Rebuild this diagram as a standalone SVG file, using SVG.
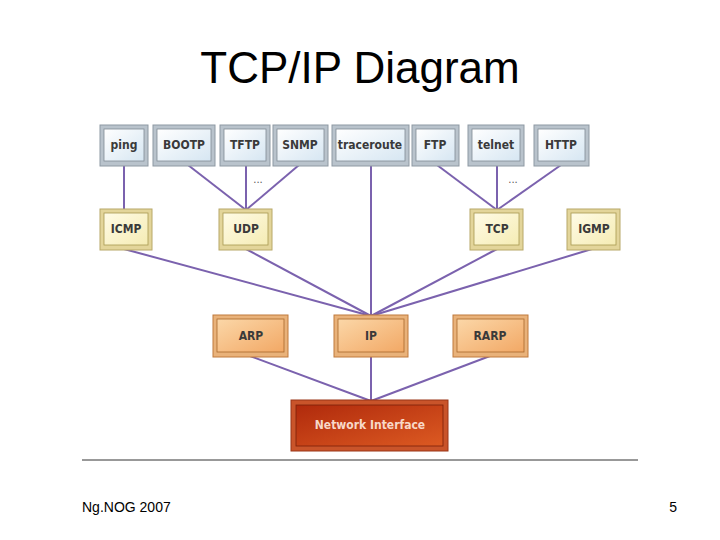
<svg xmlns="http://www.w3.org/2000/svg" width="720" height="540" viewBox="0 0 720 540">
<defs>
<linearGradient id="gBlue" x1="0" y1="0" x2="1" y2="1"><stop offset="0" stop-color="#ffffff"/><stop offset="1" stop-color="#d6e6f2"/></linearGradient>
<linearGradient id="gYel" x1="0" y1="0" x2="1" y2="1"><stop offset="0" stop-color="#fffbe6"/><stop offset="1" stop-color="#f5ecb4"/></linearGradient>
<linearGradient id="gOr" x1="0" y1="0" x2="1" y2="1"><stop offset="0" stop-color="#fbd7a8"/><stop offset="1" stop-color="#f2a865"/></linearGradient>
<linearGradient id="gRed" x1="0" y1="0" x2="1" y2="1"><stop offset="0" stop-color="#b02a0c"/><stop offset="1" stop-color="#dc5a22"/></linearGradient>
<style>
.ob{fill:#b9c3cc;stroke:#8e99a3;stroke-width:1}
.ib{fill:url(#gBlue);stroke:#7f8a94;stroke-width:0.8}
.oy{fill:#e3d59a;stroke:#b8a868;stroke-width:1}
.iy{fill:url(#gYel);stroke:#a89850;stroke-width:0.8}
.oo{fill:#e9b27a;stroke:#c07a3c;stroke-width:1}
.io{fill:url(#gOr);stroke:#a8682c;stroke-width:0.8}
.orr{fill:#c9542a;stroke:#9a3416;stroke-width:1}
.ir{fill:url(#gRed);stroke:#7a2008;stroke-width:0.8}
.lb{font-family:"DejaVu Sans Condensed","DejaVu Sans",sans-serif;font-weight:bold;font-size:12px;fill:#3a3a3a;text-anchor:middle}
.lw{font-family:"DejaVu Sans Condensed","DejaVu Sans",sans-serif;font-weight:bold;font-size:12px;fill:#f8d8c8;text-anchor:middle}
.cn{stroke:#7b62ae;stroke-width:2;fill:none}
.dots{font-family:"DejaVu Sans",sans-serif;font-size:10px;fill:#555;text-anchor:middle}
</style>
</defs>
<rect width="720" height="540" fill="#ffffff"/>
<text x="360" y="83" font-family="Liberation Sans, Arial, sans-serif" font-size="44" text-anchor="middle" fill="#000">TCP/IP Diagram</text>

<g id="connectors">
<line class="cn" x1="124" y1="166" x2="124" y2="210"/>
<line class="cn" x1="188" y1="165" x2="246" y2="210"/>
<line class="cn" x1="246" y1="166" x2="246" y2="210"/>
<line class="cn" x1="299" y1="165" x2="246" y2="210"/>
<line class="cn" x1="371" y1="166" x2="371" y2="316"/>
<line class="cn" x1="437" y1="165" x2="497" y2="210"/>
<line class="cn" x1="497" y1="166" x2="497" y2="210"/>
<line class="cn" x1="561" y1="165" x2="497" y2="210"/>
<line class="cn" x1="124" y1="249" x2="371" y2="316"/>
<line class="cn" x1="246" y1="249" x2="371" y2="316"/>
<line class="cn" x1="497" y1="249" x2="371" y2="316"/>
<line class="cn" x1="592" y1="249" x2="371" y2="316"/>
<line class="cn" x1="250" y1="356" x2="371" y2="401"/>
<line class="cn" x1="371" y1="356" x2="371" y2="401"/>
<line class="cn" x1="490" y1="356" x2="371" y2="401"/>
</g>
<text class="dots" x="258" y="183">...</text>
<text class="dots" x="513" y="183">...</text>

<g id="ping"><rect class="ob" x="100" y="125" width="48" height="41"/><rect class="ib" x="104" y="129" width="40" height="32"/><text class="lb" x="124" y="149">ping</text></g>
<g id="bootp"><rect class="ob" x="153" y="125" width="62" height="41"/><rect class="ib" x="157" y="129" width="54" height="32"/><text class="lb" x="184" y="149">BOOTP</text></g>
<g id="tftp"><rect class="ob" x="220" y="125" width="50" height="41"/><rect class="ib" x="224" y="129" width="42" height="32"/><text class="lb" x="245" y="149">TFTP</text></g>
<g id="snmp"><rect class="ob" x="273" y="125" width="55" height="41"/><rect class="ib" x="277" y="129" width="47" height="32"/><text class="lb" x="300" y="149">SNMP</text></g>
<g id="traceroute"><rect class="ob" x="332" y="125" width="77" height="41"/><rect class="ib" x="336" y="129" width="69" height="32"/><text class="lb" x="370" y="149">traceroute</text></g>
<g id="ftp"><rect class="ob" x="412" y="125" width="47" height="41"/><rect class="ib" x="416" y="129" width="39" height="32"/><text class="lb" x="435" y="149">FTP</text></g>
<g id="telnet"><rect class="ob" x="468" y="125" width="56" height="41"/><rect class="ib" x="472" y="129" width="48" height="32"/><text class="lb" x="496" y="149">telnet</text></g>
<g id="http"><rect class="ob" x="534" y="125" width="55" height="41"/><rect class="ib" x="538" y="129" width="47" height="32"/><text class="lb" x="561" y="149">HTTP</text></g>

<g id="icmp"><rect class="oy" x="100" y="209" width="52" height="41"/><rect class="iy" x="104" y="213" width="44" height="32"/><text class="lb" x="126" y="233">ICMP</text></g>
<g id="udp"><rect class="oy" x="219" y="209" width="53" height="41"/><rect class="iy" x="223" y="213" width="45" height="32"/><text class="lb" x="246" y="233">UDP</text></g>
<g id="tcp"><rect class="oy" x="470" y="209" width="53" height="41"/><rect class="iy" x="474" y="213" width="45" height="32"/><text class="lb" x="497" y="233">TCP</text></g>
<g id="igmp"><rect class="oy" x="567" y="209" width="53" height="41"/><rect class="iy" x="571" y="213" width="45" height="32"/><text class="lb" x="594" y="233">IGMP</text></g>

<g id="arp"><rect class="oo" x="213" y="315" width="75" height="42"/><rect class="io" x="217" y="319" width="67" height="33"/><text class="lb" x="251" y="340">ARP</text></g>
<g id="ip"><rect class="oo" x="334" y="315" width="74" height="42"/><rect class="io" x="338" y="319" width="66" height="33"/><text class="lb" x="371" y="340">IP</text></g>
<g id="rarp"><rect class="oo" x="453" y="315" width="75" height="42"/><rect class="io" x="457" y="319" width="67" height="33"/><text class="lb" x="490" y="340">RARP</text></g>

<g id="netif"><rect class="orr" x="291" y="400" width="157" height="51"/><rect class="ir" x="296" y="405" width="147" height="41"/><text class="lw" x="370" y="429">Network Interface</text></g>

<line x1="82" y1="460" x2="638" y2="460" stroke="#333" stroke-width="1"/>
<text x="82" y="512" font-family="Liberation Sans, Arial, sans-serif" font-size="14" fill="#000">Ng.NOG 2007</text>
<text x="677" y="512" font-family="Liberation Sans, Arial, sans-serif" font-size="14" fill="#000" text-anchor="end">5</text>
</svg>
